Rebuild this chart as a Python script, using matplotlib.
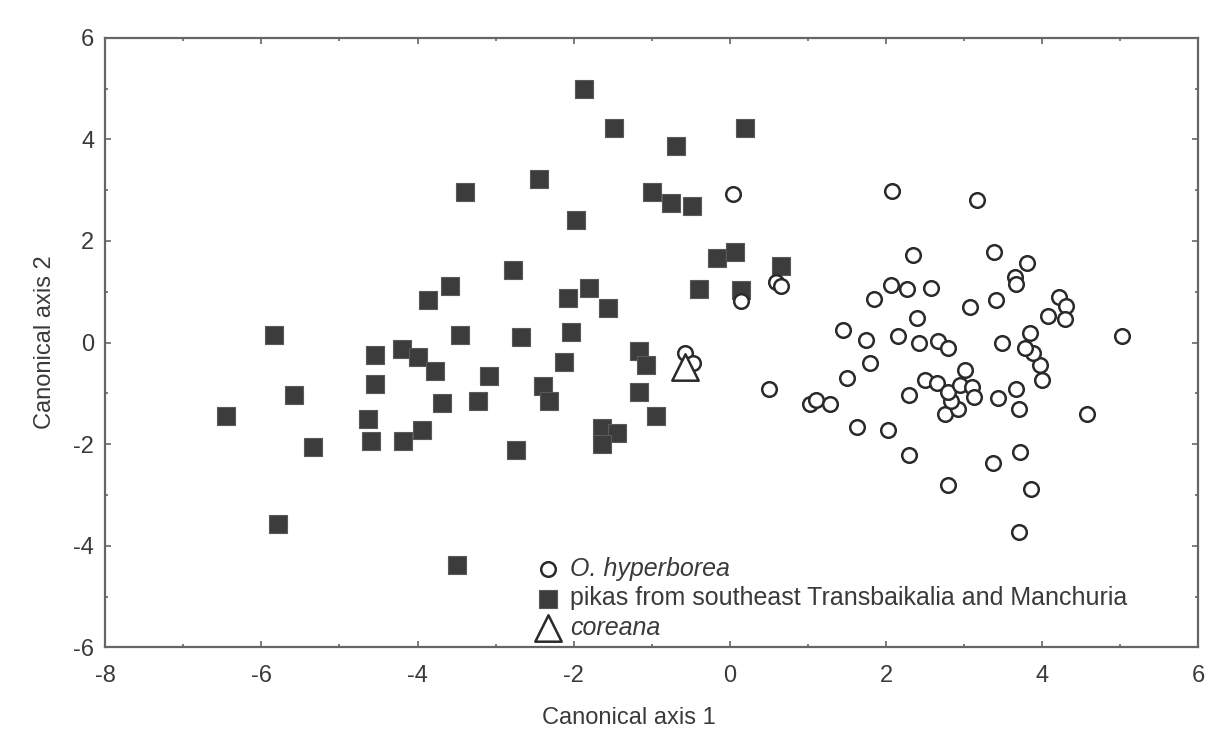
import matplotlib
matplotlib.use("Agg")
import matplotlib.pyplot as plt
from matplotlib.ticker import MultipleLocator

plt.rcParams['font.family'] = ['Liberation Sans', 'DejaVu Sans']
plt.rcParams['axes.unicode_minus'] = False

# O. hyperborea (open circles)
hyp_x = [0.04, 0.59, 0.66, 0.14, -0.57, -0.47, 0.50, 1.03, 1.10, 1.28,
         1.50, 1.79, 1.63, 2.02, 2.29, 2.29, 2.50, 2.65, 2.80, 2.76,
         2.92, 2.83, 2.80, 2.95, 3.01, 3.10, 3.13, 3.43, 3.37, 3.67,
         3.70, 3.72, 3.86, 3.70, 4.57, 4.00, 3.97, 3.88, 3.78, 3.84,
         2.08, 3.17, 2.35, 3.39, 3.81, 3.65, 3.67, 2.06, 2.27, 2.58,
         1.85, 2.40, 3.07, 3.41, 4.21, 4.31, 4.29, 4.08, 5.02, 1.45,
         1.75, 2.15, 2.42, 2.67, 2.80, 3.49]
hyp_y = [2.93, 1.20, 1.11, 0.82, -0.20, -0.41, -0.92, -1.22, -1.14, -1.22,
         -0.69, -0.41, -1.67, -1.72, -1.04, -2.22, -0.73, -0.79, -2.80, -1.41,
         -1.30, -1.15, -0.97, -0.84, -0.55, -0.87, -1.08, -1.10, -2.38, -0.92,
         -1.30, -2.16, -2.89, -3.74, -1.41, -0.73, -0.44, -0.21, -0.11, 0.19,
         2.99, 2.80, 1.72, 1.78, 1.57, 1.28, 1.15, 1.13, 1.05, 1.08,
         0.86, 0.49, 0.70, 0.83, 0.90, 0.71, 0.47, 0.52, 0.13, 0.24,
         0.05, 0.13, 0.00, 0.03, -0.10, 0.00]

# pikas from southeast Transbaikalia and Manchuria (filled squares)
pik_x = [-1.87, -1.49, 0.20, -0.69, -2.45, -3.39, -1.00, -0.76, -0.48, -1.97,
         -0.16, 0.06, 0.65, -2.78, -1.81, -2.07, -1.56, -0.40, 0.14, -3.59,
         -3.86, -5.84, -3.46, -2.68, -2.03, -4.55, -4.20, -3.99, -3.78, -3.08,
         -4.55, -5.58, -3.69, -3.23, -6.45, -4.63, -3.94, -4.59, -4.19, -5.34,
         -2.74, -5.79, -3.49, -1.16, -1.08, -2.13, -2.39, -2.31, -1.16, -0.94,
         -1.64, -1.45, -1.64]
pik_y = [5.00, 4.23, 4.23, 3.87, 3.21, 2.96, 2.97, 2.75, 2.69, 2.41,
         1.67, 1.78, 1.51, 1.42, 1.08, 0.87, 0.67, 1.05, 1.04, 1.11,
         0.84, 0.15, 0.15, 0.11, 0.21, -0.24, -0.13, -0.28, -0.57, -0.65,
         -0.82, -1.04, -1.19, -1.16, -1.45, -1.50, -1.72, -1.93, -1.93, -2.05,
         -2.11, -3.57, -4.38, -0.16, -0.44, -0.39, -0.86, -1.15, -0.98, -1.45,
         -1.69, -1.78, -2.00]

# coreana (open triangle)
cor_x = [-0.57]
cor_y = [-0.49]

text_col = '#3a3a3a'
spine_col = '#666666'

fig = plt.figure(figsize=(12.17, 7.31), dpi=100)
ax = fig.add_axes([0.0865, 0.1145, 0.8981, 0.8339])

ax.scatter(pik_x, pik_y, marker='s', s=13 ** 2, facecolor='#3c3c3c',
           edgecolor='#5a5a5a', linewidths=0.8, zorder=2,
           label='pikas from southeast Transbaikalia and Manchuria')
ax.scatter(hyp_x, hyp_y, marker='o', s=10.5 ** 2, facecolor='white',
           edgecolor='#2a2a2a', linewidths=1.8, zorder=3,
           label='O. hyperborea')
ax.scatter(cor_x, cor_y, marker='^', s=19 ** 2, facecolor='white',
           edgecolor='#2a2a2a', linewidths=1.8, zorder=4, label='coreana')

ax.set_xlim(-8, 6)
ax.set_ylim(-6, 6)
ax.xaxis.set_major_locator(MultipleLocator(2))
ax.xaxis.set_minor_locator(MultipleLocator(1))
ax.yaxis.set_major_locator(MultipleLocator(2))
ax.yaxis.set_minor_locator(MultipleLocator(1))
ax.tick_params(which='both', direction='in', top=True, right=True,
               color=spine_col, width=1.2)
ax.tick_params(which='major', length=4, labelsize=17, labelcolor=text_col)
ax.tick_params(which='minor', length=2.5)
ax.tick_params(axis='x', which='major', pad=13)
ax.tick_params(axis='y', which='major', pad=8)

for sp in ax.spines.values():
    sp.set_color(spine_col)
    sp.set_linewidth(1.6)

ax.set_xlabel('Canonical axis 1', fontsize=17, color=text_col)
ax.set_ylabel('Canonical axis 2', fontsize=17, color=text_col, labelpad=12)
ax.xaxis.set_label_coords(0.479, -0.116)
ax.xaxis.label.set_va('center')

h, l = ax.get_legend_handles_labels()
order = [1, 0, 2]
leg = ax.legend([h[i] for i in order], [l[i] for i in order],
                loc='upper left', bbox_to_anchor=(0.383, 0.165),
                frameon=False, fontsize=18, handletextpad=0.3,
                labelspacing=0.22, borderaxespad=0, handlelength=1.15,
                scatterpoints=1)
for t in leg.get_texts():
    t.set_color(text_col)
leg.get_texts()[0].set_style('italic')
leg.get_texts()[2].set_style('italic')

fig.savefig('out.png', dpi=100)
